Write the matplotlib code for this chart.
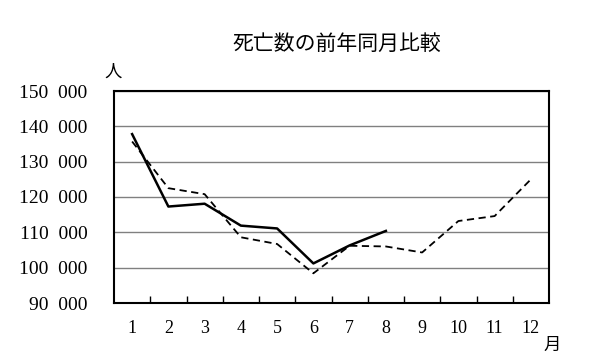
import matplotlib
matplotlib.use("Agg")
import matplotlib.pyplot as plt
import numpy as np

months = [1, 2, 3, 4, 5, 6, 7, 8, 9, 10, 11, 12]
current_year = [137800, 117300, 118100, 111900, 111100, 101200, 106300, 110400]
previous_year = [135700, 122500, 120800, 108600, 106700, 98400, 106200, 106000,
                 104300, 113200, 114600, 125000]
yticks = [90000, 100000, 110000, 120000, 130000, 140000, 150000]
ytick_labels = ["90\u2002000", "100\u2002000", "110\u2002000", "120\u2002000",
                "130\u2002000", "140\u2002000", "150\u2002000"]

cjk = ["Noto Sans CJK JP", "DejaVu Sans"]
serif = ["Liberation Serif", "DejaVu Serif"]

fig = plt.figure(figsize=(6.11, 3.64), dpi=100)
ax = fig.add_axes([114/611, 61/364, 435/611, 212/364])

ax.plot(months, previous_year, color="black", lw=1.3, ls=(0, (4, 2.5)))
ax.plot(months[:len(current_year)], current_year, color="black", lw=1.8)

ax.set_xlim(0.5, 12.5)
ax.set_ylim(90000, 150000)
ax.set_yticks(yticks)
ax.set_yticklabels(ytick_labels, fontfamily=serif, fontsize=14)
ax.set_xticks(months)
ax.set_xticklabels([str(m) for m in months], fontfamily=serif, fontsize=13)
ax.set_xticks(np.arange(1.5, 12.5, 1), minor=True)
ax.tick_params(axis="x", which="major", length=0, pad=12)
ax.tick_params(axis="x", which="minor", direction="in", length=5, width=1, color="black")
ax.tick_params(axis="y", length=0, pad=19)

ax.grid(axis="y", color="#808080", lw=1)
ax.set_axisbelow(True)
for s in ax.spines.values():
    s.set_linewidth(1.5)
    s.set_color("black")

fig.text(337/611, 1 - 44/364, "死亡数の前年同月比較", fontfamily=cjk, fontsize=15,
         ha="center", va="center")
fig.text(113/611, 1 - 72/364, "人", fontfamily=cjk, fontsize=12.5, ha="center", va="center")
fig.text(552/611, 1 - 345/364, "月", fontfamily=cjk, fontsize=12.5, ha="center", va="center")

fig.savefig("out.png", dpi=100)
